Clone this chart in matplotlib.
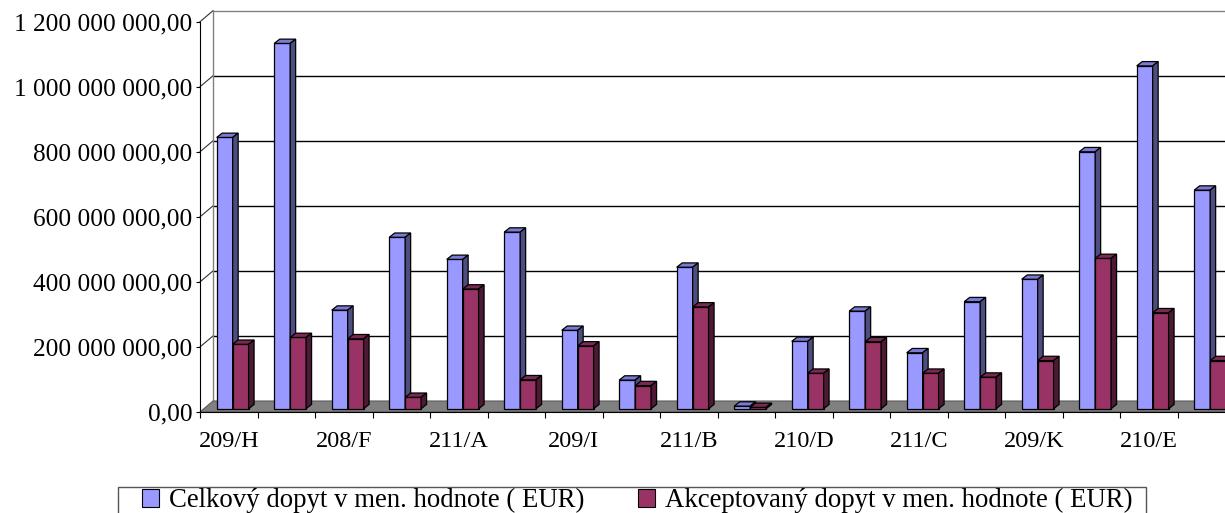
import matplotlib
matplotlib.use('Agg')
import matplotlib.pyplot as plt
from matplotlib.patches import Polygon, Patch, Rectangle

plt.rcParams['font.family'] = ['Liberation Serif', 'DejaVu Serif']

# data (EUR)
categories = ['209/H', '', '208/F', '', '211/A', '', '209/I', '', '211/B', '',
              '210/D', '', '211/C', '', '209/K', '', '210/E', '']
celkovy = [834e6, 1123e6, 303e6, 527e6, 459e6, 543e6, 241e6, 88e6, 435e6, 8e6,
           207e6, 300e6, 172e6, 329e6, 398e6, 790e6, 1054e6, 672e6]
akceptovany = [198e6, 219e6, 215e6, 35e6, 368e6, 89e6, 193e6, 71e6, 313e6, 4e6,
               109e6, 206e6, 109e6, 97e6, 148e6, 462e6, 295e6, 148e6]
yticks = [0, 200e6, 400e6, 600e6, 800e6, 1000e6, 1200e6]
series_names = ['Celkový dopyt v men. hodnote ( EUR)',
                'Akceptovaný dopyt v men. hodnote ( EUR)']

W, H = 1225, 513
fig = plt.figure(figsize=(W / 100, H / 100), dpi=100)
# front plane of the 3d box, in pixels
ax_l, ax_r, ax_b, ax_t = 200, 1235, 412, 21.7
ax = fig.add_axes([ax_l / W, (H - ax_b) / H, (ax_r - ax_l) / W, (ax_b - ax_t) / H])
n = len(categories)
ax.set_xlim(0, n)
ax.set_ylim(0, yticks[-1])

ppx = (ax_r - ax_l) / n            # pixels per category
ppy = (ax_b - ax_t) / yticks[-1]   # pixels per EUR

def off(px, py):
    return px / ppx, py / ppy

wdx, wdy = off(13, 11)     # wall depth
fdx, fdy = off(3.9, 3.3)   # bar front offset
bdx, bdy = off(5.5, 4.3)   # bar depth

# floor
ax.add_patch(Polygon([(0, 0), (n, 0), (n + wdx, wdy), (wdx, wdy)], closed=True,
                     facecolor='#808080', edgecolor='#5a5a5a', lw=0.8,
                     zorder=1, clip_on=False))
# back wall grid + side wall diagonals
for v in yticks[1:]:
    c = '#808080' if v == yticks[-1] else 'black'
    ax.plot([wdx, n + wdx], [v + wdy, v + wdy], color=c, lw=1, zorder=0.5, clip_on=False)
    ax.plot([0, wdx], [v, v + wdy], color='#333333', lw=0.8, zorder=0.5, clip_on=False)
ax.plot([wdx, wdx], [wdy, yticks[-1] + wdy], color='#808080', lw=1, zorder=0.6, clip_on=False)

# bars
bw = 0.277
styles = [('#9999ff', '#7b7bd6', '#4d4d80'), ('#993366', '#7a2952', '#4d1a33')]
for s, vals in enumerate([celkovy, akceptovany]):
    front, top, side = styles[s]
    z = 3 + s
    xs = [i + 0.223 + s * bw + fdx for i in range(n)]
    ax.bar(xs, vals, width=bw, bottom=fdy, align='edge', color=front,
           edgecolor='black', lw=0.9, zorder=z, clip_on=False)
    for x, v in zip(xs, vals):
        ax.add_patch(Polygon([(x, fdy + v), (x + bw, fdy + v),
                              (x + bw + bdx, fdy + v + bdy), (x + bdx, fdy + v + bdy)],
                             closed=True, facecolor=top, edgecolor='black', lw=0.9,
                             zorder=z, clip_on=False))
        ax.add_patch(Polygon([(x + bw, fdy), (x + bw + bdx, fdy + bdy),
                              (x + bw + bdx, fdy + v + bdy), (x + bw, fdy + v)],
                             closed=True, facecolor=side, edgecolor='black', lw=0.9,
                             zorder=z, clip_on=False))

for sp in ['top', 'right']:
    ax.spines[sp].set_visible(False)
ax.spines['left'].set_zorder(6)
ax.spines['bottom'].set_zorder(6)
ax.patch.set_visible(False)

ax.set_yticks(yticks)
ax.set_yticklabels([f'{v:,.2f}'.replace(',', ' ').replace('.', ',') for v in yticks])
ax.tick_params(axis='y', length=3, direction='out', pad=2.5, labelsize=18.2)

ax.set_xticks(range(n + 1))
ax.set_xticklabels([])
ax.tick_params(axis='x', which='major', length=4.5, direction='out')
ax.set_xticks([i + 0.5 for i in range(n)], minor=True)
ax.set_xticklabels(categories, minor=True)
ax.tick_params(axis='x', which='minor', length=0, pad=14, labelsize=17.5)

# legend (frame drawn separately, it runs off the bottom edge)
handles = [Patch(facecolor=styles[0][0], edgecolor='black', lw=0.8),
           Patch(facecolor=styles[1][0], edgecolor='black', lw=0.8)]
fig.legend(handles, series_names, loc='upper left', ncol=2,
           bbox_to_anchor=(142 / W, 1 - 488 / H), fontsize=19.3, frameon=False,
           borderpad=0, borderaxespad=0, handlelength=0.65, handleheight=0.65,
           handletextpad=0.35, columnspacing=2.0)
fig.patches.append(Rectangle((118 / W, -0.1), (1146 - 118) / W, 0.1 + (H - 486.7) / H,
                             transform=fig.transFigure, fill=False,
                             edgecolor='#555555', lw=1))

fig.savefig('out.png', dpi=100)
